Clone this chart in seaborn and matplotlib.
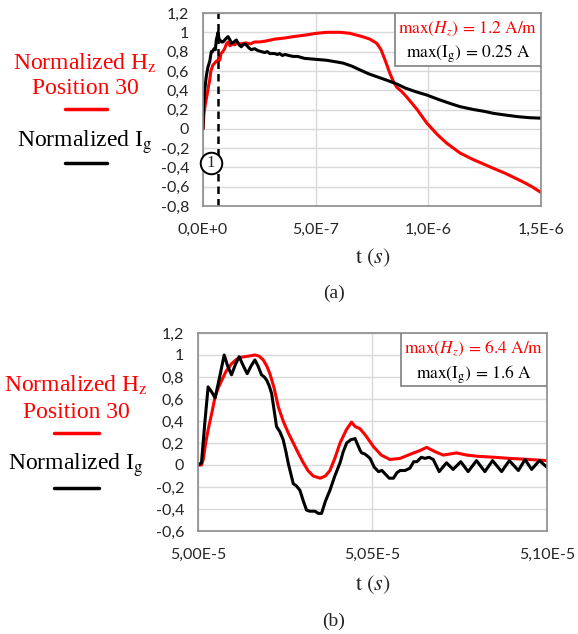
import matplotlib
matplotlib.use("Agg")
import matplotlib.pyplot as plt
from matplotlib.lines import Line2D
import seaborn as sns

# ---- panel (a): t in ns, normalized values ----
t_a_hz = [0, 4, 10, 18, 25, 29, 35, 44, 52, 59, 66, 70, 74, 80, 88, 96, 104, 111, 120, 130,
          141, 150, 170, 190, 210, 230, 253, 280, 320, 360, 400, 450, 505, 550, 608, 650, 700,
          740, 771, 790, 810, 830, 845, 860, 880, 904, 950, 993, 1040, 1082, 1140, 1200, 1250,
          1289, 1340, 1376, 1420, 1460, 1500]
hz_a = [0.0, 0.15, 0.25, 0.35, 0.45, 0.49, 0.60, 0.66, 0.68, 0.70, 0.70, 0.74, 0.71, 0.78, 0.80,
        0.83, 0.88, 0.90, 0.86, 0.88, 0.87, 0.89, 0.88, 0.89, 0.88, 0.90, 0.90, 0.91, 0.93, 0.94,
        0.955, 0.97, 0.99, 1.0, 1.0, 0.99, 0.96, 0.93, 0.886, 0.82, 0.70, 0.57, 0.49, 0.43, 0.39,
        0.33, 0.20, 0.06, -0.06, -0.15, -0.25, -0.32, -0.37, -0.41, -0.46, -0.50, -0.55, -0.60,
        -0.66]

t_a_ig = [0, 2, 7.5, 15, 22, 30, 37, 42, 49, 55, 59, 67, 71, 75, 82, 89, 100, 111, 120, 126,
          137, 148, 160, 170, 181, 192, 203, 214, 229, 244, 259, 274, 285, 296, 318, 330, 340,
          352, 365, 380, 400, 420, 450, 500, 549, 600, 623, 660, 697, 735, 771, 820, 860, 900,
          950, 993, 1050, 1100, 1140, 1200, 1250, 1289, 1350, 1400, 1450, 1500]
ig_a = [0.0, 0.2, 0.40, 0.55, 0.64, 0.70, 0.80, 0.80, 0.83, 0.82, 0.92, 1.0, 0.93, 0.92, 0.90,
        0.90, 0.93, 0.955, 0.92, 0.886, 0.90, 0.92, 0.87, 0.85, 0.88, 0.87, 0.84, 0.82, 0.83,
        0.81, 0.80, 0.79, 0.80, 0.78, 0.78, 0.77, 0.78, 0.76, 0.77, 0.76, 0.75, 0.75, 0.73, 0.72,
        0.71, 0.69, 0.68, 0.65, 0.61, 0.57, 0.54, 0.50, 0.464, 0.42, 0.38, 0.35, 0.30, 0.26, 0.23,
        0.20, 0.18, 0.16, 0.14, 0.125, 0.115, 0.11]

# ---- panel (b): t in ns after 5.00E-5 s ----
t_b_hz = [0, 10, 15, 22, 29, 40, 49, 58, 68, 80, 96, 110, 125, 145, 163, 175, 187, 197, 206,
          218, 230, 244, 259, 273, 287, 300, 315, 330, 350, 365, 378, 392, 407, 425, 440, 450,
          464, 480, 502, 525, 550, 579, 610, 635, 655, 680, 703, 741, 770, 798, 850, 894, 950,
          1000]
hz_b = [0.0, 0.0, 0.05, 0.2, 0.32, 0.48, 0.62, 0.70, 0.77, 0.85, 0.92, 0.96, 0.98, 0.99, 1.0,
        0.99, 0.955, 0.90, 0.83, 0.70, 0.53, 0.40, 0.29, 0.20, 0.11, 0.03, -0.05, -0.10, -0.12,
        -0.10, -0.05, 0.06, 0.20, 0.32, 0.39, 0.35, 0.33, 0.27, 0.17, 0.09, 0.05, 0.06, 0.10,
        0.13, 0.16, 0.12, 0.09, 0.11, 0.09, 0.08, 0.07, 0.06, 0.05, 0.04]

t_b_ig = [0, 10, 20, 29, 40, 49, 62, 75, 85, 96, 108, 118, 130, 141, 152, 163, 172, 182, 190,
          197, 204, 211, 218, 225, 235, 244, 252, 259, 266, 273, 282, 292, 302, 311, 320, 335,
          345, 354, 365, 378, 392, 407, 416, 426, 438, 450, 458, 465, 469, 478, 486, 493, 505,
          517, 527, 536, 548, 560, 570, 579, 593, 607, 618, 627, 640, 650, 662, 674, 691, 712,
          731, 753, 774, 798, 822, 844, 870, 892, 918, 937, 956, 978, 1000]
ig_b = [0.0, 0.02, 0.40, 0.71, 0.66, 0.61, 0.80, 1.0, 0.90, 0.82, 0.92, 0.985, 0.90, 0.83,
        0.90, 0.955, 0.90, 0.82, 0.80, 0.77, 0.72, 0.65, 0.50, 0.35, 0.30, 0.23, 0.12, 0.01,
        -0.08, -0.17, -0.19, -0.23, -0.33, -0.41, -0.42, -0.42, -0.44, -0.44, -0.33, -0.23,
        -0.10, 0.02, 0.12, 0.20, 0.23, 0.24, 0.18, 0.13, 0.11, 0.10, 0.08, 0.06, -0.02, -0.06,
        -0.05, -0.08, -0.12, -0.12, -0.07, -0.05, -0.05, -0.03, 0.03, 0.03, 0.07, 0.06, 0.07,
        0.05, -0.06, 0.02, -0.04, 0.03, -0.06, 0.04, -0.06, 0.04, -0.06, 0.04, -0.05, 0.05,
        -0.04, 0.04, -0.02]

xticks_a = [0, 5e-7, 1e-6, 1.5e-6]
xlabels_a = ["0,0E+0", "5,0E-7", "1,0E-6", "1,5E-6"]
yticks_a = [1.2, 1.0, 0.8, 0.6, 0.4, 0.2, 0.0, -0.2, -0.4, -0.6, -0.8]
ylabels_a = ["1,2", "1", "0,8", "0,6", "0,4", "0,2", "0", "-0,2", "-0,4", "-0,6", "-0,8"]
xticks_b = [5.00e-5, 5.05e-5, 5.10e-5]
xlabels_b = ["5,00E-5", "5,05E-5", "5,10E-5"]
yticks_b = [1.2, 1.0, 0.8, 0.6, 0.4, 0.2, 0.0, -0.2, -0.4, -0.6]
ylabels_b = ["1,2", "1", "0,8", "0,6", "0,4", "0,2", "0", "-0,2", "-0,4", "-0,6"]

sns.set_style("white")
plt.rcParams["mathtext.fontset"] = "stix"
plt.rcParams["font.family"] = ["Liberation Serif", "DejaVu Serif"]
SERIF = ["Liberation Serif", "DejaVu Serif"]

W, H = 578, 634
fig = plt.figure(figsize=(W / 100, H / 100), dpi=100)


def fx(px):
    return px / W


def fy(py):
    return 1 - py / H


def setup(ax, xticks, xlabels, yticks, ylabels, xlim, ylim):
    ax.set_xlim(*xlim)
    ax.set_ylim(*ylim)
    ax.set_xticks(xticks)
    ax.set_xticklabels(xlabels)
    ax.set_yticks(yticks)
    ax.set_yticklabels(ylabels)
    ax.grid(True, color="#d9d9d9", lw=1)
    ax.set_axisbelow(True)
    for s in ax.spines.values():
        s.set_color("#8c8c8c")
        s.set_linewidth(1.2)
    ax.tick_params(axis="y", length=0, labelsize=11.5, pad=10)
    ax.tick_params(axis="x", length=0, labelsize=11.5, pad=12)
    for lab in ax.get_xticklabels() + ax.get_yticklabels():
        lab.set_family("Lato")
        lab.set_color("#262626")
    ax.set_xlabel("")
    ax.set_ylabel("")


# panel a
ax1 = fig.add_axes([fx(203), fy(206), 338 / W, 193 / H])
sns.lineplot(x=[t * 1e-9 for t in t_a_hz], y=hz_a, ax=ax1, color="#ff0000", lw=2.2)
sns.lineplot(x=[t * 1e-9 for t in t_a_ig], y=ig_a, ax=ax1, color="black", lw=2.2)
setup(ax1, xticks_a, xlabels_a, yticks_a, ylabels_a, (0, 1.5e-6), (-0.8, 1.2))
ax1.axvline(6.7e-8, color="black", ls=(0, (3, 2)), lw=1.8)
ax1.plot([3.4e-8], [-0.355], marker="o", ms=15.5, mfc="white", mec="black", mew=1.4,
         clip_on=False, zorder=5)
ax1.text(3.4e-8, -0.355, "1", ha="center", va="center", fontsize=12, family=SERIF, zorder=6)
ax1.text(0.784, 0.92, r"$\max(H_z)\,=\,1.2\ \mathrm{A/m}$", transform=ax1.transAxes,
         ha="center", va="center", fontsize=12.5, color="#ff0000", zorder=7)
ax1.text(0.784, 0.79, r"$\max\left(\mathrm{I_g}\right)\,=\,0.25\ \mathrm{A}$",
         transform=ax1.transAxes, ha="center", va="center", fontsize=12.5, color="black",
         zorder=7)
ax1.add_patch(plt.Rectangle((0.568, 0.727), 0.432, 0.273, transform=ax1.transAxes,
                            facecolor="white", edgecolor="#7f7f7f", lw=1.2, zorder=6))

# panel b
ax2 = fig.add_axes([fx(198), fy(531), 349 / W, 198 / H])
sns.lineplot(x=[5e-5 + t * 1e-9 for t in t_b_hz], y=hz_b, ax=ax2, color="#ff0000", lw=2.2)
sns.lineplot(x=[5e-5 + t * 1e-9 for t in t_b_ig], y=ig_b, ax=ax2, color="black", lw=2.2)
setup(ax2, xticks_b, xlabels_b, yticks_b, ylabels_b, (5.00e-5, 5.10e-5), (-0.6, 1.2))
ax2.text(0.791, 0.92, r"$\max(H_z)\,=\,6.4\ \mathrm{A/m}$", transform=ax2.transAxes,
         ha="center", va="center", fontsize=12.5, color="#ff0000", zorder=7)
ax2.text(0.791, 0.79, r"$\max\left(\mathrm{I_g}\right)\,=\,1.6\ \mathrm{A}$",
         transform=ax2.transAxes, ha="center", va="center", fontsize=12.5, color="black",
         zorder=7)
ax2.add_patch(plt.Rectangle((0.582, 0.732), 0.418, 0.268, transform=ax2.transAxes,
                            facecolor="white", edgecolor="#7f7f7f", lw=1.2, zorder=6))

# left-side labels
for (cx, y1, y2, yl1, x0, x1, y3, yl2, x2, x3) in [
        (85, 63, 89, 109, 65, 107, 142, 163, 65, 107),
        (76, 385, 413, 433, 54, 99, 465, 488, 54, 99)]:
    fig.text(fx(cx), fy(y1), r"Normalized H$_\mathrm{z}$", color="#ff0000", fontsize=17,
             family=SERIF, ha="center", va="center")
    fig.text(fx(cx), fy(y2), "Position 30", color="#ff0000", fontsize=17,
             family=SERIF, ha="center", va="center")
    fig.add_artist(Line2D([fx(x0), fx(x1)], [fy(yl1), fy(yl1)], color="#ff0000", lw=2.5))
    fig.text(fx(cx), fy(y3), r"Normalized I$_\mathrm{g}$", color="black", fontsize=17,
             family=SERIF, ha="center", va="center")
    fig.add_artist(Line2D([fx(x2), fx(x3)], [fy(yl2), fy(yl2)], color="black", lw=2.5))

fig.text(fx(373), fy(258), r"$\mathrm{t}\ (s)$", fontsize=16, ha="center", va="center")
fig.text(fx(373), fy(585), r"$\mathrm{t}\ (s)$", fontsize=16, ha="center", va="center")
fig.text(fx(334), fy(293), "(a)", fontsize=14, family=SERIF, ha="center", va="center")
fig.text(fx(334), fy(621), "(b)", fontsize=14, family=SERIF, ha="center", va="center")

fig.savefig("out.png", dpi=100)
